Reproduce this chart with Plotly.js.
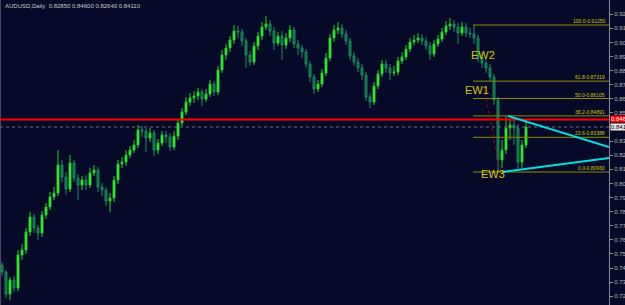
<!DOCTYPE html>
<html>
<head>
<meta charset="utf-8">
<script src="https://cdn.plot.ly/plotly-3.0.1.min.js"></script>
<style>html,body{margin:0;padding:0;background:#060a28;}#chart{width:625px;height:305px;}</style>
</head>
<body>
<div id="chart"></div>
<script>
// ---- data (AUDUSD daily) ----
const symbolTitle = "AUDUSD,Daily";
const openP = [.7445,.7396,.7242,.7340,.7284,.7515,.7550,.7676,.7781,.7704,
.7669,.7795,.7851,.7921,.7949,.8145,.8061,.7977,.8159,.8054,
.8005,.8040,.8005,.8089,.8110,.7991,.7970,.7893,.7914,.8040,
.8152,.8166,.8215,.8250,.8285,.8390,.8383,.8334,.8369,.8250,
.8299,.8355,.8341,.8271,.8348,.8439,.8516,.8586,.8614,.8628,
.8656,.8607,.8642,.8712,.8656,.8810,.8915,.8964,.9020,.9083,
.9076,.9013,.8915,.8866,.8978,.9048,.9111,.9132,.9083,.8999,
.9048,.8985,.9034,.9090,.8992,.8964,.8936,.8852,.8761,.8677,
.8712,.8789,.8894,.9034,.9090,.9104,.9062,.9013,.8908,.8866,
.8824,.8775,.8621,.8586,.8698,.8782,.8852,.8824,.8789,.8796,
.8873,.8901,.8957,.9006,.9020,.9034,.9013,.8978,.8922,.8992,
.9027,.9076,.9118,.9132,.9111,.9069,.9111,.9069,.9062,.9034,
.8894,.8859,.8824,.8761,.8600,.8180,.8250,.8404,.8425,.8404,
.8166,.8285];
const highP = [.7466,.7410,.7361,.7368,.7550,.7592,.7704,.7816,.7802,.7725,
.7823,.7879,.7956,.7991,.8250,.8180,.8096,.8215,.8180,.8082,
.8068,.8075,.8124,.8145,.8131,.8019,.7991,.7949,.8068,.8180,
.8201,.8250,.8278,.8320,.8425,.8418,.8404,.8404,.8390,.8327,
.8383,.8383,.8369,.8383,.8460,.8544,.8621,.8649,.8663,.8684,
.8677,.8677,.8740,.8733,.8838,.8950,.8992,.9048,.9125,.9118,
.9097,.9034,.8943,.9006,.9076,.9146,.9188,.9160,.9111,.9076,
.9083,.9069,.9125,.9111,.9020,.8985,.8957,.8873,.8782,.8740,
.8817,.8929,.9062,.9125,.9146,.9132,.9090,.9034,.8936,.8894,
.8852,.8796,.8649,.8726,.8810,.8880,.8880,.8852,.8838,.8901,
.8936,.8985,.9034,.9055,.9069,.9062,.9041,.9006,.9020,.9055,
.9104,.9153,.9174,.9160,.9139,.9146,.9139,.9104,.9125,.9055,
.8936,.8887,.8852,.8782,.8621,.8320,.8488,.8467,.8460,.8432,
.8320,.8460];
const lowP = [.7368,.7214,.7200,.7256,.7263,.7480,.7522,.7648,.7669,.7620,
.7641,.7767,.7830,.7900,.7928,.8026,.7935,.7956,.8026,.7900,
.7970,.7970,.7984,.8068,.7956,.7928,.7858,.7816,.7886,.8012,
.8124,.8138,.8194,.8229,.8264,.8341,.8236,.8306,.8208,.8222,
.8278,.8299,.8243,.8250,.8320,.8418,.8495,.8558,.8579,.8600,
.8558,.8586,.8621,.8628,.8635,.8789,.8880,.8936,.8992,.9034,
.8978,.8824,.8838,.8845,.8950,.9020,.9090,.9048,.8950,.8978,
.8880,.8957,.9006,.8964,.8915,.8894,.8824,.8726,.8642,.8656,
.8691,.8768,.8873,.9006,.9062,.9034,.8985,.8880,.8838,.8796,
.8740,.8593,.8544,.8565,.8677,.8761,.8789,.8740,.8768,.8775,
.8852,.8880,.8936,.8985,.8999,.8985,.8950,.8880,.8901,.8971,
.9006,.9055,.9090,.9076,.8992,.9048,.9041,.9034,.8992,.8866,
.8824,.8789,.8726,.8565,.8096,.8124,.8222,.8320,.8285,.8110,
.8124,.8264];
const closeP = [.7396,.7242,.7340,.7284,.7515,.7550,.7676,.7781,.7704,.7669,
.7795,.7851,.7921,.7949,.8145,.8061,.7977,.8159,.8054,.8005,
.8040,.8005,.8089,.8110,.7991,.7970,.7893,.7914,.8040,.8152,
.8166,.8215,.8250,.8285,.8390,.8383,.8334,.8369,.8250,.8299,
.8355,.8341,.8271,.8348,.8439,.8516,.8586,.8614,.8628,.8656,
.8607,.8642,.8712,.8656,.8810,.8915,.8964,.9020,.9083,.9076,
.9013,.8915,.8866,.8978,.9048,.9111,.9132,.9083,.8999,.9048,
.8985,.9034,.9090,.8992,.8964,.8936,.8852,.8761,.8677,.8712,
.8789,.8894,.9034,.9090,.9104,.9062,.9013,.8908,.8866,.8824,
.8775,.8621,.8586,.8698,.8782,.8852,.8824,.8789,.8796,.8873,
.8901,.8957,.9006,.9020,.9034,.9013,.8978,.8922,.8992,.9027,
.9076,.9118,.9132,.9111,.9069,.9111,.9069,.9062,.9034,.8894,
.8859,.8824,.8761,.8600,.8180,.8250,.8404,.8425,.8404,.8166,
.8285,.8411];
const bars = openP.map((_, i) => i);

// price-axis tick labels
const priceTicks = [0.92000,0.91013,0.90026,0.89039,0.88052,0.87065,0.86078,0.85091,0.84104,
  0.83117,0.82130,0.81143,0.80156,0.79169,0.78182,0.77195,0.76208,0.75221,0.74234,0.73247,0.72260];

// Fibonacci retracement (anchored on the swing high / low)
const fibLevels = [100.0, 61.8, 50.0, 38.2, 23.6, 0.0];
const fibHighBar = 118, fibLowBar = 124;
const fibStartX = 117.75;

// triangle trend lines
const triUpperX = [126.5, 151.75], triUpperY = [0.8488, 0.8271];
const triLowerX = [125, 151.75],   triLowerY = [0.8096, 0.8194];

// Elliott wave labels
const ewText = ["EW2", "EW1", "EW3"];
const ewX = [120.25, 118.75, 122.75];
const ewY = [0.8915, 0.8670, 0.8082];

// dotted wave line
const waveX = [120.5, 124.5], waveY = [0.8691, 0.8110];

// horizontal levels
const redLevel = 0.8464;
const bidLevel = closeP[closeP.length - 1];

// ---- build chart ----
const xMax = 151.75;
const fibHigh = highP[fibHighBar], fibLow = lowP[fibLowBar];
const fmt = v => v.toFixed(5);
const last = closeP.length - 1;

const shapes = [];
const annotations = [];

// window border at left
shapes.push({type:'line', xref:'paper', yref:'paper', x0:0, x1:0, y0:0, y1:1, line:{color:'#8a8a8a', width:1}});

// fib lines
fibLevels.forEach(l => {
  const p = fibLow + (fibHigh - fibLow) * l / 100;
  shapes.push({type:'line', xref:'x', yref:'y', x0:fibStartX, x1:xMax, y0:p, y1:p, line:{color:'#8f8a00', width:1}});
  annotations.push({xref:'x', yref:'y', x:xMax - 0.5, y:p, xanchor:'right', yanchor:'bottom', yshift:-1,
    text:l.toFixed(1) + '-' + fmt(p), showarrow:false, font:{family:'Arial', size:5, color:'#d0c800'}});
});

// red horizontal line
shapes.push({type:'line', xref:'paper', yref:'y', x0:0, x1:1, y0:redLevel, y1:redLevel, line:{color:'#ff0000', width:2}});
// bid line
shapes.push({type:'line', xref:'paper', yref:'y', x0:0, x1:1, y0:bidLevel, y1:bidLevel, line:{color:'#6e6e6e', width:1, dash:'dot'}});
// dotted wave line
shapes.push({type:'line', xref:'x', yref:'y', x0:waveX[0], x1:waveX[1], y0:waveY[0], y1:waveY[1], line:{color:'#b00000', width:1, dash:'dot'}});
// triangle
shapes.push({type:'line', xref:'x', yref:'y', x0:triUpperX[0], x1:triUpperX[1], y0:triUpperY[0], y1:triUpperY[1], line:{color:'#00e0e0', width:2}});
shapes.push({type:'line', xref:'x', yref:'y', x0:triLowerX[0], x1:triLowerX[1], y0:triLowerY[0], y1:triLowerY[1], line:{color:'#00e0e0', width:2}});

// EW labels
ewText.forEach((t, i) => annotations.push({xref:'x', yref:'y', x:ewX[i], y:ewY[i], text:t, showarrow:false,
  font:{family:'Arial', size:11, color:'#d8c600'}}));

// price boxes on the axis
annotations.push({xref:'paper', yref:'y', x:1, y:redLevel, xanchor:'left', xshift:1, text:fmt(redLevel), showarrow:false,
  bgcolor:'#ff0000', font:{family:'Arial', size:6, color:'#ffffff'}, borderpad:0});
annotations.push({xref:'paper', yref:'y', x:1, y:bidLevel, xanchor:'left', xshift:1, text:fmt(bidLevel), showarrow:false,
  bgcolor:'#e8e8e8', font:{family:'Arial', size:6, color:'#000000'}, borderpad:0});

// title
annotations.push({xref:'paper', yref:'paper', x:0, y:1, xanchor:'left', yanchor:'top', xshift:3, yshift:-1,
  text:symbolTitle + '  ' + fmt(openP[last]) + ' ' + fmt(highP[last]) + ' ' + fmt(lowP[last]) + ' ' + fmt(closeP[last]),
  showarrow:false, font:{family:'Arial', size:6, color:'#c8c8c8'}});

const trace = {
  type:'candlestick', x:bars, open:openP, high:highP, low:lowP, close:closeP,
  increasing:{line:{color:'#22cc22', width:1}, fillcolor:'#55ff44'},
  decreasing:{line:{color:'#1a8a66', width:1}, fillcolor:'#0f6a2a'},
  whiskerwidth:0, hoverinfo:'skip'
};

const layout = {
  width:625, height:305,
  margin:{l:0, r:16, t:0, b:0},
  paper_bgcolor:'#060a28', plot_bgcolor:'#060a28',
  showlegend:false,
  xaxis:{range:[-0.5, xMax], visible:false, rangeslider:{visible:false}, fixedrange:true},
  yaxis:{range:[0.7165, 0.93], side:'right', tickvals:priceTicks, ticktext:priceTicks.map(fmt),
    tickfont:{family:'Arial', size:6, color:'#b8b8b8'}, ticks:'outside', ticklen:3, tickcolor:'#8a8a8a',
    showline:true, linecolor:'#8a8a8a', linewidth:1, showgrid:false, zeroline:false, fixedrange:true},
  shapes:shapes, annotations:annotations
};

Plotly.newPlot('chart', [trace], layout, {displayModeBar:false, staticPlot:true});
</script>
</body>
</html>
